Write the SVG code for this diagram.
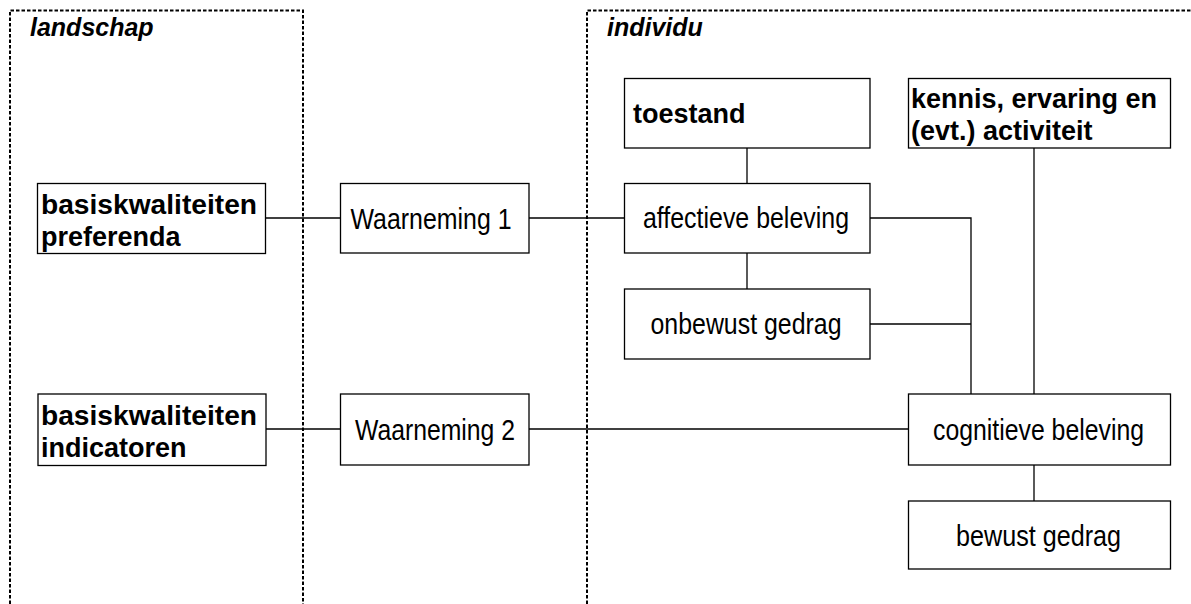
<svg xmlns="http://www.w3.org/2000/svg" width="1191" height="604" viewBox="0 0 1191 604">
  <style>
    .zone { fill: none; stroke: #000; stroke-width: 2; stroke-dasharray: 3.5 2; }
    .box { fill: #fff; stroke: #000; stroke-width: 1.3; }
    .wire { fill: none; stroke: #000; stroke-width: 1.3; }
    .title { font-family: "Liberation Sans", Arial, sans-serif; font-size: 25px; font-weight: bold; font-style: italic; fill: #000; }
    .lbl { font-family: "Liberation Sans", Arial, sans-serif; font-size: 29px; fill: #000; text-anchor: middle; }
    .blbl { font-family: "Liberation Sans", Arial, sans-serif; font-size: 27px; font-weight: bold; fill: #000; }
  </style>

  <!-- zones -->
  <g id="zone-landschap">
    <path class="zone" d="M10 604 V10.5 H303 V604"/>
    <text class="title" x="30" y="36">landschap</text>
  </g>
  <g id="zone-individu">
    <path class="zone" d="M587 604 V10.5 H1195"/>
    <text class="title" x="607" y="36">individu</text>
  </g>

  <!-- connectors -->
  <g id="connectors">
    <path class="wire" d="M265 218 H340.5"/>
    <path class="wire" d="M529 218 H624.5"/>
    <path class="wire" d="M266 429 H340.5"/>
    <path class="wire" d="M529 429 H908"/>
    <path class="wire" d="M747 148 V183"/>
    <path class="wire" d="M747 253 V289"/>
    <path class="wire" d="M870 218 H971 V394"/>
    <path class="wire" d="M870 324 H971"/>
    <path class="wire" d="M1034 148 V394"/>
    <path class="wire" d="M1034 465 V501"/>
  </g>

  <!-- nodes -->
  <g id="node-preferenda">
    <rect class="box" x="37.5" y="183.5" width="228" height="70"/>
    <text class="blbl" x="41" y="214" textLength="216" lengthAdjust="spacingAndGlyphs">basiskwaliteiten</text>
    <text class="blbl" x="41" y="246">preferenda</text>
  </g>
  <g id="node-indicatoren">
    <rect class="box" x="38" y="394" width="228" height="71.5"/>
    <text class="blbl" x="41" y="425" textLength="216" lengthAdjust="spacingAndGlyphs">basiskwaliteiten</text>
    <text class="blbl" x="41" y="457">indicatoren</text>
  </g>
  <g id="node-waarneming1">
    <rect class="box" x="340.5" y="183.5" width="188.5" height="69.5"/>
    <text class="lbl" x="431" y="229" textLength="161" lengthAdjust="spacingAndGlyphs">Waarneming 1</text>
  </g>
  <g id="node-waarneming2">
    <rect class="box" x="340.5" y="394" width="188.5" height="71"/>
    <text class="lbl" x="435" y="440" textLength="160" lengthAdjust="spacingAndGlyphs">Waarneming 2</text>
  </g>
  <g id="node-toestand">
    <rect class="box" x="624.5" y="78.5" width="245.5" height="69.5"/>
    <text class="blbl" x="633" y="123">toestand</text>
  </g>
  <g id="node-kennis">
    <rect class="box" x="908.5" y="78.5" width="262" height="69.5"/>
    <text class="blbl" x="911" y="108">kennis, ervaring en</text>
    <text class="blbl" x="911" y="140">(evt.) activiteit</text>
  </g>
  <g id="node-affectief">
    <rect class="box" x="624.5" y="183.5" width="245.5" height="69.5"/>
    <text class="lbl" x="746" y="228" textLength="206" lengthAdjust="spacingAndGlyphs">affectieve beleving</text>
  </g>
  <g id="node-onbewust">
    <rect class="box" x="624.5" y="289" width="245.5" height="70"/>
    <text class="lbl" x="746" y="334" textLength="191" lengthAdjust="spacingAndGlyphs">onbewust gedrag</text>
  </g>
  <g id="node-cognitief">
    <rect class="box" x="908.5" y="394" width="262" height="71"/>
    <text class="lbl" x="1038.5" y="440" textLength="211" lengthAdjust="spacingAndGlyphs">cognitieve beleving</text>
  </g>
  <g id="node-bewust">
    <rect class="box" x="908.5" y="501" width="262" height="68"/>
    <text class="lbl" x="1038.5" y="546" textLength="165" lengthAdjust="spacingAndGlyphs">bewust gedrag</text>
  </g>
</svg>
